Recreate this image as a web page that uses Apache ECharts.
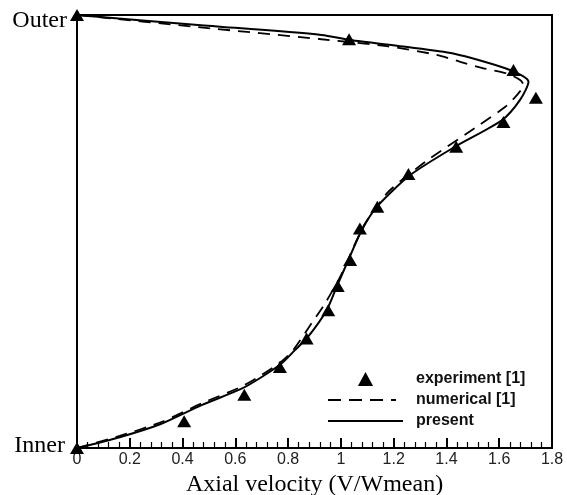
<!DOCTYPE html>
<html>
<head>
<meta charset="utf-8">
<script src="https://cdn.jsdelivr.net/npm/echarts@6/dist/echarts.min.js"></script>
<style>
  html, body { margin: 0; padding: 0; background: #fff; }
  #chart { width: 567px; height: 495px; }
</style>
</head>
<body>
<div id="chart"></div>
<script>
// Axial velocity profile across the channel, from inner (0) to outer (1) wall.
const xTickLabels = ['0', '0.2', '0.4', '0.6', '0.8', '1', '1.2', '1.4', '1.6', '1.8'];
const yTickLabels = ['Inner', 'Outer'];
const seriesNames = ['experiment [1]', 'numerical [1]', 'present'];

// Measured profile: [velocity, radial position]
const experiment = [
  [0, 0], [0.406, 0.062], [0.634, 0.123], [0.769, 0.187], [0.870, 0.253],
  [0.952, 0.318], [0.988, 0.374], [1.035, 0.434], [1.072, 0.507], [1.138, 0.557],
  [1.256, 0.633], [1.437, 0.696], [1.616, 0.753], [1.739, 0.809], [1.654, 0.873],
  [1.031, 0.944], [0, 1]
];

// Reference simulation
const numerical = [
  [0, 0], [0.162, 0.028], [0.320, 0.060], [0.472, 0.103], [0.624, 0.142],
  [0.700, 0.169], [0.775, 0.200], [0.819, 0.226], [0.889, 0.288], [0.940, 0.334],
  [0.997, 0.395], [1.054, 0.472], [1.092, 0.519], [1.174, 0.588], [1.231, 0.619],
  [1.338, 0.669], [1.515, 0.742], [1.623, 0.788], [1.667, 0.815], [1.692, 0.838],
  [1.679, 0.850], [1.629, 0.865], [1.540, 0.877], [1.452, 0.892], [1.363, 0.908],
  [1.174, 0.928], [0.927, 0.944], [0.459, 0.972], [0, 1]
];

// Present computation
const present = [
  [0, 0], [0.162, 0.025], [0.320, 0.056], [0.472, 0.099], [0.624, 0.137],
  [0.700, 0.164], [0.775, 0.195], [0.826, 0.226], [0.876, 0.257], [0.946, 0.318],
  [0.984, 0.372], [1.028, 0.434], [1.079, 0.503], [1.136, 0.557], [1.262, 0.630],
  [1.433, 0.696], [1.610, 0.757], [1.679, 0.804], [1.711, 0.846], [1.641, 0.873],
  [1.426, 0.911], [1.237, 0.927], [1.035, 0.942], [0.927, 0.954], [0.459, 0.977],
  [0, 1]
];

const SERIF = '"Liberation Serif", "Times New Roman", serif';
const SANS = '"Liberation Sans", Arial, sans-serif';

const chart = echarts.init(document.getElementById('chart'), null, { renderer: 'canvas' });

// Legend icons: a small triangle, a dashed bar and a solid bar, each 75 px wide
const triIcon = 'path://M0,12L6.5,0L13,12Z';
const dashIcon = 'path://M0,0H13V2H0Z M21,0H34V2H21Z M42,0H55V2H42Z M63,0H68V2H63Z M75,0V2';
const solidIcon = 'path://M0,0H75V2H0Z';

chart.setOption({
  animation: false,
  backgroundColor: '#fff',
  grid: {
    left: 77, right: 15, top: 15, bottom: 47,
    containLabel: false, outerBoundsMode: 'none',
    show: true, borderColor: '#000', borderWidth: 2, backgroundColor: 'transparent'
  },
  legend: {
    orient: 'vertical',
    left: 328, top: 371, padding: 0,
    itemWidth: 75, itemHeight: 14, itemGap: 5,
    symbolKeepAspect: true,
    selectedMode: false,
    textStyle: { fontFamily: SANS, fontWeight: 'bold', fontSize: 16, color: '#111', lineHeight: 16, padding: [0, 0, 0, 8] },
    data: [
      { name: seriesNames[0], icon: triIcon, itemStyle: { color: '#000', opacity: 1 } },
      { name: seriesNames[1], icon: dashIcon, itemStyle: { color: '#000' } },
      { name: seriesNames[2], icon: solidIcon, itemStyle: { color: '#000' } }
    ]
  },
  xAxis: {
    type: 'value', min: 0, max: 1.8, interval: 0.2,
    name: 'Axial velocity (V/Wmean)',
    nameLocation: 'middle', nameGap: 19,
    nameTextStyle: { fontFamily: SERIF, fontSize: 24, color: '#000' },
    axisLine: { show: true, onZero: false, lineStyle: { color: '#000', width: 2 } },
    axisTick: { show: true, inside: true, length: 10, lineStyle: { color: '#000', width: 2 } },
    minorTick: { show: true, splitNumber: 5, length: 6, lineStyle: { color: '#000', width: 1.2 } },
    splitLine: { show: false },
    axisLabel: {
      margin: 4, fontFamily: SANS, fontSize: 16, color: '#222',
      formatter: (v, i) => xTickLabels[i]
    }
  },
  yAxis: {
    type: 'value', min: 0, max: 1, interval: 1,
    axisLine: { show: true, onZero: false, lineStyle: { color: '#000', width: 2 } },
    axisTick: { show: false },
    splitLine: { show: false },
    axisLabel: {
      margin: 10, fontFamily: SERIF, fontSize: 24, color: '#000',
      formatter: (v, i) => i === 0 ? '{inner|' + yTickLabels[0] + '}' : '{outer|' + yTickLabels[1] + '}',
      rich: {
        inner: { fontFamily: SERIF, fontSize: 24, color: '#000', padding: [0, 2, 4, 0] },
        outer: { fontFamily: SERIF, fontSize: 24, color: '#000', padding: [12, 0, 0, 0] }
      }
    }
  },
  series: [
    {
      name: seriesNames[0], type: 'scatter', data: experiment,
      symbol: 'triangle', symbolSize: [14, 12],
      itemStyle: { color: '#000', opacity: 1 }, clip: false, z: 5
    },
    {
      name: seriesNames[1], type: 'line', data: numerical,
      symbol: 'none', smooth: 0.25, clip: false,
      lineStyle: { color: '#000', width: 1.8, type: [12, 8] },
      itemStyle: { color: '#000' }, z: 3
    },
    {
      name: seriesNames[2], type: 'line', data: present,
      symbol: 'none', smooth: 0.25, clip: false,
      lineStyle: { color: '#000', width: 2 },
      itemStyle: { color: '#000' }, z: 4
    }
  ]
});
</script>
</body>
</html>
